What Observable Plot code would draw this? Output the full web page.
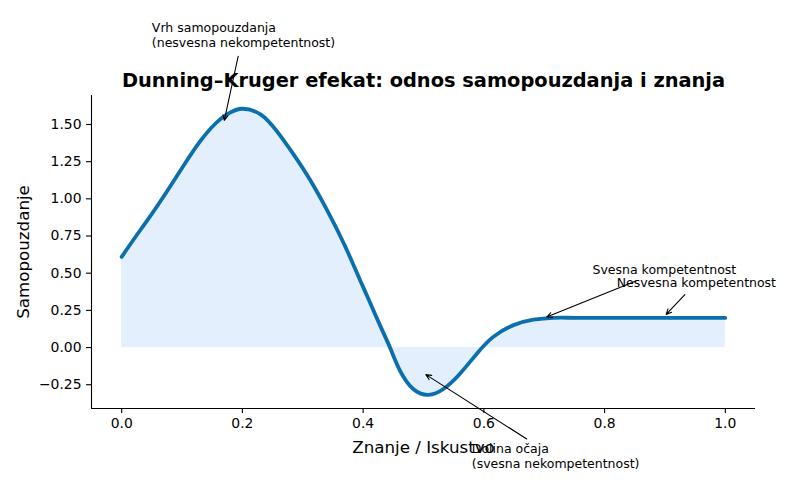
<!DOCTYPE html>
<html>
<head>
<meta charset="utf-8">
<script src="https://cdn.jsdelivr.net/npm/d3@7"></script>
<script src="https://cdn.jsdelivr.net/npm/@observablehq/plot@0.6"></script>
<style>
  html, body { margin: 0; padding: 0; background: #fff; }
  #chart { width: 800px; height: 500px; }
</style>
</head>
<body>
<div id="chart"></div>
<script>
// Data
const knowledge = [0, 0.023, 0.045, 0.073, 0.100, 0.128, 0.155, 0.177, 0.200, 0.230, 0.257, 0.285, 0.312, 0.340, 0.368, 0.395, 0.409, 0.428, 0.445, 0.461, 0.483, 0.508, 0.533, 0.560, 0.588, 0.615, 0.648, 0.682, 0.715, 0.75, 0.8, 0.85, 0.9, 0.95, 1.0];
const confidence = [0.61, 0.745, 0.87, 1.038, 1.207, 1.376, 1.505, 1.574, 1.606, 1.568, 1.455, 1.297, 1.128, 0.926, 0.70, 0.453, 0.325, 0.149, -0.005, -0.155, -0.279, -0.318, -0.279, -0.178, -0.043, 0.070, 0.149, 0.187, 0.200, 0.2, 0.2, 0.2, 0.2, 0.2, 0.2];

const xTicks = [0, 0.2, 0.4, 0.6, 0.8, 1.0];
const yTicks = [-0.25, 0, 0.25, 0.5, 0.75, 1.0, 1.25, 1.5];
const xDomain = [-0.05, 1.05];
const yDomain = [-0.41, 1.695];

const titleText = "Dunning–Kruger efekat: odnos samopouzdanja i znanja";
const xLabel = "Znanje / Iskustvo";
const yLabel = "Samopouzdanje";

// annotations: target (x,y), text anchor (tx,ty), arrow start (sx,sy)
const annLabels = ["Vrh samopouzdanja\n(nesvesna nekompetentnost)", "Dolina očaja\n(svesna nekompetentnost)", "Svesna kompetentnost", "Nesvesna kompetentnost"];
const annX  = [0.170, 0.504, 0.704, 0.902];
const annY  = [1.527, -0.182, 0.205, 0.223];
const annTX = [0.05, 0.58, 0.78, 0.82];
const annTY = [2.02, -0.81, 0.495, 0.41];
const annSX = [0.193, 0.671, 0.852, 0.933];
const annSY = [1.959, -0.615, 0.448, 0.356];

const curve = knowledge.map((x, i) => ({x, y: confidence[i]}));
const ann = annLabels.map((label, i) => ({label, x: annX[i], y: annY[i], tx: annTX[i], ty: annTY[i], sx: annSX[i], sy: annSY[i]}));

const font = "DejaVu Sans, sans-serif";
const lineColor = "#0b6fab";
const fillColor = "#e3effd";

const chart = Plot.plot({
  width: 800,
  height: 500,
  marginTop: 95,
  marginBottom: 92,
  marginLeft: 91,
  marginRight: 45,
  style: {fontFamily: font, fontSize: "13.9px", color: "#000", background: "#fff"},
  x: {domain: xDomain, ticks: xTicks, tickFormat: d3.format(".1f"), label: null, tickSize: 5, tickPadding: 5},
  y: {domain: yDomain, ticks: yTicks, tickFormat: d3.format(".2f"), label: null, tickSize: 5, tickPadding: 5},
  marks: [
    Plot.areaY(curve, {x: "x", y: "y", fill: fillColor, curve: "natural"}),
    Plot.line(curve, {x: "x", y: "y", stroke: lineColor, strokeWidth: 3.8, curve: "natural"}),
    Plot.ruleX([xDomain[0]], {stroke: "#000", strokeWidth: 1.1}),
    Plot.ruleY([yDomain[0]], {stroke: "#000", strokeWidth: 1.1}),
    Plot.axisX({ticks: xTicks, tickFormat: d3.format(".1f"), tickSize: 5, tickPadding: 5, fontSize: 13.9, label: null, strokeWidth: 1.1}),
    Plot.axisY({ticks: yTicks, tickFormat: d3.format(".2f"), tickSize: 5, tickPadding: 5, fontSize: 13.9, label: null, strokeWidth: 1.1}),
    Plot.text([titleText], {frameAnchor: "top", textAnchor: "middle", lineAnchor: "bottom", dy: -8.5, fontSize: 19.4, fontWeight: "bold", fill: "#000"}),
    Plot.text([xLabel], {frameAnchor: "bottom", textAnchor: "middle", lineAnchor: "bottom", dy: 44, fontSize: 16.7, fill: "#000"}),
    Plot.text([yLabel], {frameAnchor: "left", textAnchor: "middle", lineAnchor: "middle", rotate: -90, dx: -68, fontSize: 16.7, fill: "#000"}),
    Plot.text(ann, {x: "tx", y: "ty", text: "label", textAnchor: "start", lineAnchor: "bottom", lineHeight: 1.2, fontSize: 12.5, fill: "#000"}),
    Plot.arrow(ann, {x1: "sx", y1: "sy", x2: "x", y2: "y", stroke: "#000", strokeWidth: 1.1, headLength: 8, headAngle: 50, insetStart: 0, insetEnd: 0})
  ]
});
document.getElementById("chart").appendChild(chart);
</script>
</body>
</html>
